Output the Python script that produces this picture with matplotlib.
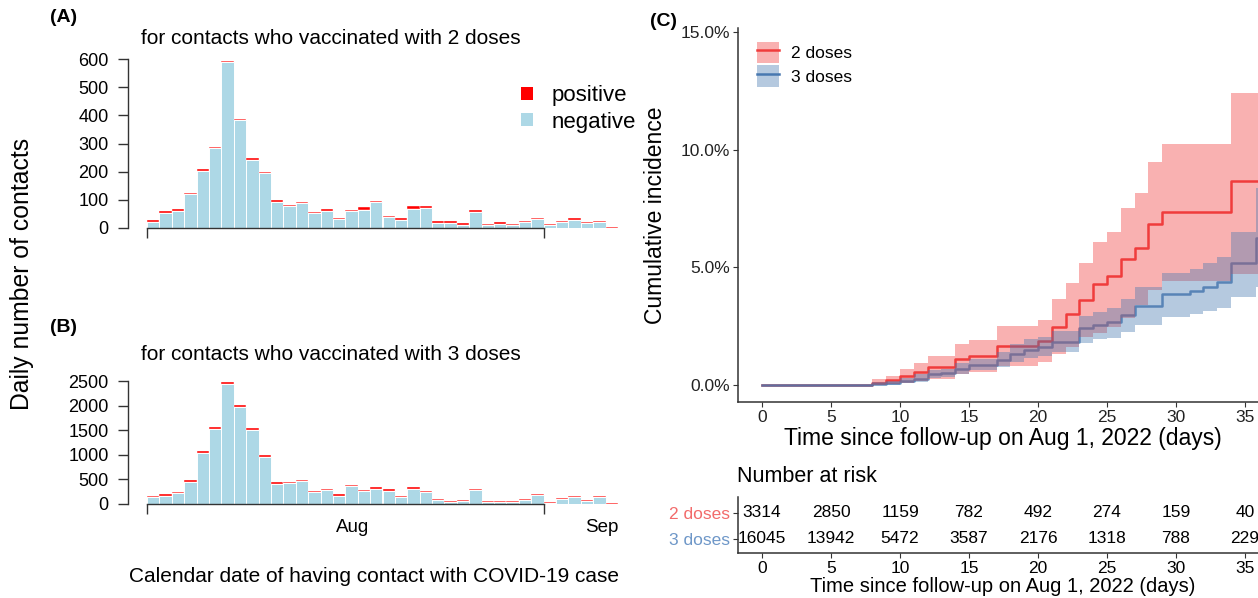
import numpy as np
import matplotlib.pyplot as plt
from matplotlib.patches import Patch
from matplotlib.lines import Line2D

plt.rcParams['font.family'] = ['Liberation Sans', 'DejaVu Sans']

W, H = 1258, 598

# ---- panel A / B : daily contacts per bin (38 bins) ----
total_2d = [28, 59, 66, 123, 208, 288, 593, 388, 248, 199, 98, 83, 92, 56, 69, 36, 64, 73, 96, 44,
            34, 79, 77, 25, 25, 18, 64, 14, 21, 15, 26, 37, 14, 25, 36, 21, 26, 3]
pos_2d = [5, 4, 4, 4, 4, 4, 5, 4, 6, 5, 5, 6, 5, 4, 9, 5, 4, 8, 4, 4,
          4, 10, 7, 8, 8, 6, 6, 5, 8, 5, 4, 4, 4, 4, 6, 5, 4, 3]
total_3d = [164, 199, 247, 486, 1068, 1562, 2479, 2014, 1541, 1000, 438, 452, 493, 274, 315, 199, 384, 281, 342, 295,
            164, 342, 274, 103, 68, 89, 315, 68, 68, 68, 103, 205, 48, 123, 164, 82, 164, 14]
pos_3d = [25, 30, 30, 30, 35, 40, 35, 35, 40, 40, 35, 30, 35, 25, 30, 30, 25, 25, 30, 30,
          25, 30, 25, 30, 25, 25, 30, 25, 30, 35, 20, 25, 20, 25, 30, 20, 25, 14]
month_labels = ['Aug', 'Sep']
month_pos = [16.6, 36.7]

# ---- panel C : cumulative incidence (%) ----
t_2d = [0, 8, 9, 10, 11, 12, 14, 15, 17, 20, 21, 22, 23, 24, 25, 26, 27, 28, 29, 34]
est_2d = [0, 0.10, 0.21, 0.37, 0.55, 0.75, 1.10, 1.25, 1.64, 1.87, 2.48, 3.00, 3.61, 4.29, 4.64, 5.36, 5.84, 6.84, 7.37, 8.67]
hi_2d = [0, 0.26, 0.40, 0.68, 0.95, 1.25, 1.74, 1.90, 2.49, 2.78, 3.65, 4.35, 5.18, 6.07, 6.52, 7.51, 8.15, 9.49, 10.23, 12.39]
lo_2d = [0, 0, 0.03, 0.10, 0.19, 0.27, 0.47, 0.56, 0.82, 1.00, 1.33, 1.63, 2.05, 2.22, 2.45, 2.85, 3.40, 4.05, 4.40, 4.70]

t_3d = [0, 8, 9, 10, 11, 12, 13, 14, 15, 17, 18, 19, 20, 21, 23, 24, 25, 26, 27, 29, 31, 32, 33, 34, 35.8]
est_3d = [0, 0.05, 0.07, 0.17, 0.27, 0.45, 0.50, 0.70, 0.87, 1.05, 1.30, 1.50, 1.60, 1.84, 2.41, 2.55, 2.69, 2.97, 3.36,
          3.85, 3.99, 4.18, 4.39, 5.17, 6.23]
hi_3d = [0, 0.14, 0.17, 0.30, 0.45, 0.65, 0.70, 0.95, 1.12, 1.40, 1.75, 1.95, 2.05, 2.30, 2.93, 3.12, 3.29, 3.67, 4.18,
         4.77, 4.92, 5.20, 5.45, 6.50, 8.36]
lo_3d = [0, 0, 0, 0.07, 0.14, 0.28, 0.33, 0.48, 0.62, 0.78, 0.98, 1.15, 1.22, 1.40, 1.77, 1.94, 2.00, 2.24, 2.55,
         2.90, 3.00, 3.14, 3.26, 3.73, 4.18]

risk_days = [0, 5, 10, 15, 20, 25, 30, 35]
risk_2d = [3314, 2850, 1159, 782, 492, 274, 159, 40]
risk_3d = [16045, 13942, 5472, 3587, 2176, 1318, 788, 229]
groups = ['2 doses', '3 doses']

RED = '#F03C3C'
BLUE = '#4878B0'
LBLUE = '#ADD8E6'
AXC = '#333333'


def rect(l, t, r, b):
    return [l / W, 1 - b / H, (r - l) / W, (b - t) / H]


fig = plt.figure(figsize=(W / 100, H / 100), dpi=100)


def hist_panel(ax, total, pos, ymax, ystep, show_months):
    total = np.array(total)
    pos = np.array(pos)
    idx = np.arange(len(total))
    ax.bar(idx, total - pos, width=1, align='edge', color=LBLUE, edgecolor='white', linewidth=0.7)
    ax.bar(idx, pos, bottom=total - pos, width=1, align='edge', color='red', edgecolor='white', linewidth=0.3)
    ax.set_xlim(0, len(total))
    ax.set_ylim(0, ymax)
    for s in ['top', 'right']:
        ax.spines[s].set_visible(False)
    ax.spines['left'].set_position(('outward', 13.5))
    ax.spines['left'].set_bounds(0, ymax)
    ax.spines['bottom'].set_bounds(0, 32)
    for s in ['left', 'bottom']:
        ax.spines[s].set_color(AXC)
        ax.spines[s].set_linewidth(1.0)
        ax.spines[s].set_clip_on(False)
    ax.set_yticks(np.arange(0, ymax + 1, ystep))
    ax.tick_params(axis='y', length=7, width=1, color=AXC, labelsize=13, pad=7)
    ax.set_xticks([0, 32], ['', ''])
    ax.tick_params(axis='x', which='major', length=7, width=1, color=AXC)
    if show_months:
        ax.set_xticks(month_pos, month_labels, minor=True)
        ax.tick_params(axis='x', which='minor', length=0, labelsize=13.5, pad=11)


axA = fig.add_axes(rect(147, 59, 618, 228))
hist_panel(axA, total_2d, pos_2d, 600, 100, False)
axB = fig.add_axes(rect(147, 381, 618, 504))
hist_panel(axB, total_3d, pos_3d, 2500, 500, True)

fig.text(331 / W, 1 - 38 / H, 'for contacts who vaccinated with 2 doses', ha='center', va='center', fontsize=15)
fig.text(331 / W, 1 - 355 / H, 'for contacts who vaccinated with 3 doses', ha='center', va='center', fontsize=15)
fig.text(50 / W, 1 - 18 / H, '(A)', ha='left', va='center', fontsize=14, fontweight='bold')
fig.text(50 / W, 1 - 327 / H, '(B)', ha='left', va='center', fontsize=14, fontweight='bold')
fig.text(22 / W, 1 - 274 / H, 'Daily number of contacts', rotation=90, ha='center', va='center', fontsize=17.8)
fig.text(374 / W, 1 - 577 / H, 'Calendar date of having contact with COVID-19 case', ha='center', va='center',
         fontsize=15)

legA = [Patch(facecolor='red', edgecolor='none'), Patch(facecolor=LBLUE, edgecolor='none')]
fig.legend(legA, ['positive', 'negative'], loc='upper left', bbox_to_anchor=(510 / W, 1 - 74 / H), frameon=False,
           fontsize=16, handlelength=0.55, handleheight=0.55, handletextpad=0.8, labelspacing=0.25, borderpad=0)

# ---- panel C ----
axC = fig.add_axes(rect(738, 28, 1269, 402))
xend = 37


def ext(t, v):
    return list(t) + [xend], list(v) + [v[-1]]


x, y = ext(t_2d, est_2d)
axC.step(x, y, where='post', color=RED, linewidth=1.8, zorder=2)
x, y = ext(t_3d, est_3d)
axC.step(x, y, where='post', color=BLUE, linewidth=1.8, alpha=0.85, zorder=3)
x, lo = ext(t_2d, lo_2d)
_, hi = ext(t_2d, hi_2d)
axC.fill_between(x, lo, hi, step='post', color=RED, alpha=0.4, linewidth=0, zorder=4)
x, lo = ext(t_3d, lo_3d)
_, hi = ext(t_3d, hi_3d)
axC.fill_between(x, lo, hi, step='post', color=BLUE, alpha=0.4, linewidth=0, zorder=5)

axC.set_xlim(-1.75, 36.75)
axC.set_ylim(-0.72, 15.17)
for s in ['top', 'right']:
    axC.spines[s].set_visible(False)
for s in ['left', 'bottom']:
    axC.spines[s].set_color(AXC)
    axC.spines[s].set_linewidth(1.1)
axC.set_yticks([0, 5, 10, 15], ['0.0%', '5.0%', '10.0%', '15.0%'])
axC.set_xticks(risk_days)
axC.tick_params(axis='both', length=3.5, width=0.8, color=AXC, labelsize=12.5, labelcolor='#222222', pad=2)

hC = [(Patch(facecolor=RED, alpha=0.4, edgecolor='none'), Line2D([], [], color=RED, lw=1.8)),
      (Patch(facecolor=BLUE, alpha=0.4, edgecolor='none'), Line2D([], [], color=BLUE, lw=1.8))]
axC.legend(hC, groups, loc='upper left', bbox_to_anchor=(748 / W, 1 - 33 / H), bbox_transform=fig.transFigure,
           frameon=False, fontsize=12.5, handlelength=1.3, handleheight=1.5, handletextpad=0.7, labelspacing=0.15,
           borderpad=0)

fig.text(650 / W, 1 - 22 / H, '(C)', ha='left', va='center', fontsize=14, fontweight='bold')
fig.text(655 / W, 1 - 215 / H, 'Cumulative incidence', rotation=90, ha='center', va='center', fontsize=16.5)
fig.text(1003 / W, 1 - 438 / H, 'Time since follow-up on Aug 1, 2022 (days)', ha='center', va='center',
         fontsize=16.5)

# ---- number at risk table ----
axR = fig.add_axes(rect(738, 497, 1269, 553))
axR.set_xlim(-1.75, 36.75)
axR.set_ylim(0.45, 2.6)
for d, a, b in zip(risk_days, risk_2d, risk_3d):
    axR.text(d, 2, str(a), ha='center', va='center', fontsize=12.5)
    axR.text(d, 1, str(b), ha='center', va='center', fontsize=12.5)
for s in ['top', 'right']:
    axR.spines[s].set_visible(False)
for s in ['left', 'bottom']:
    axR.spines[s].set_color(AXC)
    axR.spines[s].set_linewidth(1.1)
axR.set_yticks([2, 1], groups)
for lab, c in zip(axR.get_yticklabels(), ['#F26B6B', '#6E97C8']):
    lab.set_color(c)
axR.set_xticks(risk_days)
axR.tick_params(axis='both', length=3.5, width=0.8, color=AXC, labelsize=12.5, pad=2)
fig.text(737 / W, 1 - 477 / H, 'Number at risk', ha='left', va='center', fontsize=15.5)
fig.text(1003 / W, 1 - 587 / H, 'Time since follow-up on Aug 1, 2022 (days)', ha='center', va='center',
         fontsize=14.5)

fig.savefig('out.png', dpi=100)
